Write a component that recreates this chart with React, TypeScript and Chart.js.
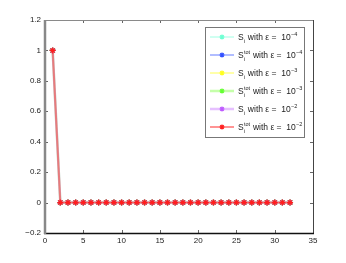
import React, { useEffect, useRef } from "react";
import { Chart, registerables } from "chart.js";

Chart.register(...registerables);

const xValues = [1, 2, 3, 4, 5, 6, 7, 8, 9, 10, 11, 12, 13, 14, 15, 16, 17, 18, 19, 20, 21, 22, 23, 24, 25, 26, 27, 28, 29, 30, 31, 32];
const siEps4 = [1, 0, 0, 0, 0, 0, 0, 0, 0, 0, 0, 0, 0, 0, 0, 0, 0, 0, 0, 0, 0, 0, 0, 0, 0, 0, 0, 0, 0, 0, 0, 0];
const stotEps4 = [1, 0, 0, 0, 0, 0, 0, 0, 0, 0, 0, 0, 0, 0, 0, 0, 0, 0, 0, 0, 0, 0, 0, 0, 0, 0, 0, 0, 0, 0, 0, 0];
const siEps3 = [1, 0, 0, 0, 0, 0, 0, 0, 0, 0, 0, 0, 0, 0, 0, 0, 0, 0, 0, 0, 0, 0, 0, 0, 0, 0, 0, 0, 0, 0, 0, 0];
const stotEps3 = [1, 0, 0, 0, 0, 0, 0, 0, 0, 0, 0, 0, 0, 0, 0, 0, 0, 0, 0, 0, 0, 0, 0, 0, 0, 0, 0, 0, 0, 0, 0, 0];
const siEps2 = [1, 0, 0, 0, 0, 0, 0, 0, 0, 0, 0, 0, 0, 0, 0, 0, 0, 0, 0, 0, 0, 0, 0, 0, 0, 0, 0, 0, 0, 0, 0, 0];
const stotEps2 = [1, 0, 0, 0, 0, 0, 0, 0, 0, 0, 0, 0, 0, 0, 0, 0, 0, 0, 0, 0, 0, 0, 0, 0, 0, 0, 0, 0, 0, 0, 0, 0];

const seriesValues = [siEps4, stotEps4, siEps3, stotEps3, siEps2, stotEps2];
const seriesIsTotal = [false, true, false, true, false, true];
const seriesExponents = ["\u22124", "\u22124", "\u22123", "\u22123", "\u22122", "\u22122"];
const seriesLineColors = [
  "rgba(120,255,215,0.7)",
  "rgba(60,90,255,0.8)",
  "rgba(255,255,40,0.8)",
  "rgba(150,255,100,0.55)",
  "rgba(205,130,255,0.5)",
  "rgba(255,90,90,0.65)",
];
const seriesMarkerColors = [
  "rgb(110,255,210)",
  "rgb(50,80,255)",
  "rgb(255,255,30)",
  "rgb(100,255,50)",
  "rgb(190,90,255)",
  "rgb(255,30,30)",
];
const seriesLineWidths = [1, 1, 1, 2.5, 2.5, 2];

const xTicks = [0, 5, 10, 15, 20, 25, 30, 35];
const yTicks = [-0.2, 0, 0.2, 0.4, 0.6, 0.8, 1, 1.2];

const FONT = "'Liberation Sans', Arial, Helvetica, sans-serif";

function drawStar(ctx: CanvasRenderingContext2D, x: number, y: number, r: number, color: string) {
  ctx.save();
  ctx.strokeStyle = color;
  ctx.lineWidth = 1.2;
  ctx.beginPath();
  for (let k = 0; k < 4; k++) {
    const a = (k * Math.PI) / 4;
    ctx.moveTo(x - r * Math.cos(a), y - r * Math.sin(a));
    ctx.lineTo(x + r * Math.cos(a), y + r * Math.sin(a));
  }
  ctx.stroke();
  ctx.restore();
}

const framePlugin = {
  id: "matlabFrame",
  afterDraw(chart: any) {
    const { ctx, chartArea } = chart;
    const { left, right, top, bottom } = chartArea;
    const xs = chart.scales.x;
    const ys = chart.scales.y;
    ctx.save();
    ctx.strokeStyle = "#666";
    ctx.lineWidth = 1;
    ctx.beginPath();
    xTicks.forEach((t) => {
      const px = Math.round(xs.getPixelForValue(t)) + 0.5;
      ctx.moveTo(px, bottom);
      ctx.lineTo(px, bottom - 3);
      ctx.moveTo(px, top);
      ctx.lineTo(px, top + 3);
    });
    yTicks.forEach((t) => {
      const py = Math.round(ys.getPixelForValue(t)) + 0.5;
      ctx.moveTo(left, py);
      ctx.lineTo(left + 3, py);
      ctx.moveTo(right, py);
      ctx.lineTo(right - 3, py);
    });
    ctx.stroke();
    ctx.strokeStyle = "#8a8a8a";
    ctx.lineWidth = 1;
    ctx.beginPath();
    ctx.moveTo(left, top + 0.5);
    ctx.lineTo(right, top + 0.5);
    ctx.stroke();
    ctx.strokeStyle = "#444";
    ctx.beginPath();
    ctx.moveTo(right + 0.5, top);
    ctx.lineTo(right + 0.5, bottom);
    ctx.stroke();
    ctx.strokeStyle = "#111";
    ctx.lineWidth = 1.5;
    ctx.beginPath();
    ctx.moveTo(left - 1, bottom + 0.5);
    ctx.lineTo(right + 1, bottom + 0.5);
    ctx.stroke();
    ctx.strokeStyle = "#888";
    ctx.lineWidth = 2.5;
    ctx.beginPath();
    ctx.moveTo(left, top);
    ctx.lineTo(left, bottom + 1);
    ctx.stroke();

    const bx = 205, by = 27, bw = 99, bh = 110;
    ctx.fillStyle = "#fff";
    ctx.fillRect(bx, by, bw, bh);
    ctx.strokeStyle = "#777";
    ctx.lineWidth = 1;
    ctx.strokeRect(bx + 0.5, by + 0.5, bw, bh);
    const rowH = 18;
    for (let i = 0; i < seriesValues.length; i++) {
      const ry = by + 10 + i * rowH;
      ctx.strokeStyle = seriesLineColors[i];
      ctx.lineWidth = seriesLineWidths[i];
      ctx.beginPath();
      ctx.moveTo(bx + 5, ry);
      ctx.lineTo(bx + 29, ry);
      ctx.stroke();
      drawStar(ctx, bx + 17, ry, 2.5, seriesMarkerColors[i]);
      ctx.fillStyle = "#222";
      ctx.textBaseline = "alphabetic";
      ctx.textAlign = "left";
      let tx = bx + 33;
      const base = ry + 3;
      ctx.font = `8.5px ${FONT}`;
      ctx.fillText("S", tx, base);
      tx += ctx.measureText("S").width;
      ctx.font = `5.5px ${FONT}`;
      ctx.fillText("i", tx + 0.3, base + 2.5);
      let adv = ctx.measureText("i").width + 0.6;
      if (seriesIsTotal[i]) {
        ctx.fillText("tot", tx + 0.3, base - 4);
        adv = ctx.measureText("tot").width + 0.8;
      }
      tx += adv;
      ctx.font = `8.5px ${FONT}`;
      const mid = " with \u03b5 =  10";
      ctx.fillText(mid, tx, base);
      tx += ctx.measureText(mid).width;
      ctx.font = `5.5px ${FONT}`;
      ctx.fillText(seriesExponents[i], tx + 0.3, base - 4);
    }
    ctx.restore();
  },
};

function fmt(v: number) {
  const s = String(Number(v.toFixed(1)));
  return s.replace("-", "\u2212");
}

export default function App() {
  const ref = useRef<HTMLCanvasElement | null>(null);
  useEffect(() => {
    if (!ref.current) return;
    const datasets = seriesValues.map((vals, i) => ({
      data: xValues.map((x, j) => ({ x, y: vals[j] })),
      order: seriesValues.length - i,
      borderColor: seriesLineColors[i],
      borderWidth: seriesLineWidths[i],
      pointStyle: "star" as const,
      pointRadius: 3,
      pointBorderColor: seriesMarkerColors[i],
      pointBackgroundColor: seriesMarkerColors[i],
      pointBorderWidth: 1.2,
      fill: false,
      tension: 0,
    }));
    const chart = new Chart(ref.current, {
      type: "line",
      data: { datasets },
      plugins: [framePlugin],
      options: {
        animation: false,
        responsive: false,
        devicePixelRatio: 1,
        layout: { padding: { top: 20, right: 33, left: 0, bottom: 0 } },
        plugins: { legend: { display: false }, tooltip: { enabled: false } },
        scales: {
          x: {
            type: "linear",
            min: 0,
            max: 35,
            afterFit: (s: any) => { s.height = 30; },
            afterBuildTicks: (s: any) => { s.ticks = xTicks.map((v) => ({ value: v })); },
            grid: { display: false, drawTicks: false },
            border: { display: false },
            ticks: {
              padding: 3,
              color: "#222",
              font: { size: 8, family: FONT },
              maxRotation: 0,
              callback: (v: any) => fmt(Number(v)),
            },
          },
          y: {
            type: "linear",
            min: -0.2,
            max: 1.2,
            afterFit: (s: any) => { s.width = 45; },
            afterBuildTicks: (s: any) => { s.ticks = yTicks.map((v) => ({ value: v })); },
            grid: { display: false, drawTicks: false },
            border: { display: false },
            ticks: {
              padding: 4,
              color: "#222",
              font: { size: 8, family: FONT },
              callback: (v: any) => fmt(Number(v)),
            },
          },
        },
      },
    });
    return () => chart.destroy();
  }, []);
  return (
    <div style={{ position: "fixed", left: 0, top: 0, width: 346, height: 263, background: "#fff" }}>
      <canvas ref={ref} width={346} height={263} style={{ width: 346, height: 263, display: "block" }} />
    </div>
  );
}
